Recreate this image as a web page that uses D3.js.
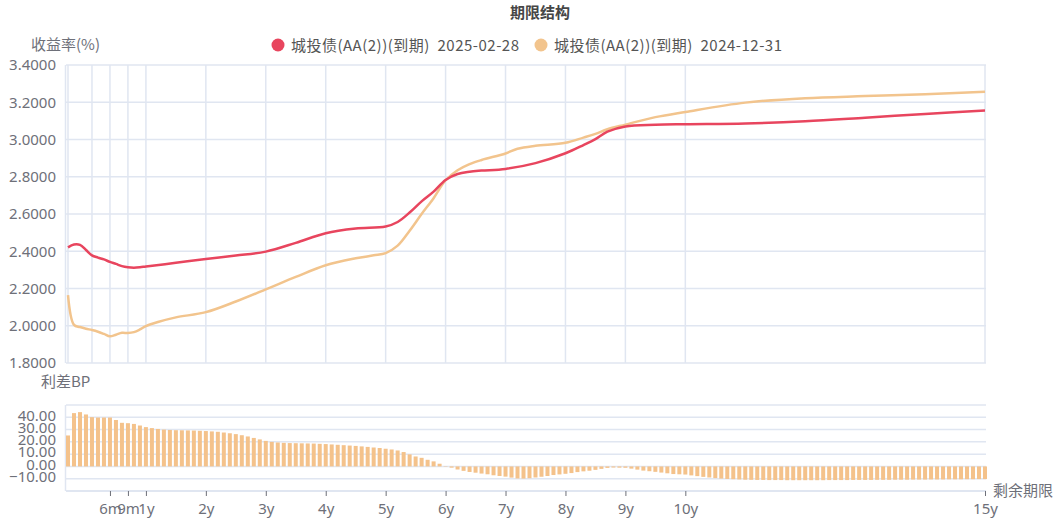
<!DOCTYPE html>
<html><head><meta charset="utf-8">
<script src="https://cdn.jsdelivr.net/npm/d3@7/dist/d3.min.js"></script>
<style>
html,body{margin:0;padding:0;background:#fff;}
svg{display:block;font-family:"Noto Sans CJK SC","Noto Sans",sans-serif;}
</style></head>
<body>
<svg id="chart" width="1060" height="523"></svg>
<script>
// ---------- DATA ----------
const shortTerms = ["7d","14d","1m","2m","3m","4m","5m","6m","7m","8m","9m","10m","11m","1y"];
const longTerms = [];
for (let i = 11; i <= 150; i++) { const v = i / 10; longTerms.push((Number.isInteger(v) ? v : v.toFixed(1)) + "y"); }
const categories = shortTerms.concat(longTerms);

const xTickLabels = ["6m","9m","1y","2y","3y","4y","5y","6y","7y","8y","9y","10y","15y"];
const topGridTerms = ["7d","3m","6m","9m","1y","2y","3y","4y","5y","6y","7y","8y","9y","10y","15y"];
const yTicksTop = [1.8,2.0,2.2,2.4,2.6,2.8,3.0,3.2,3.4];
const yTicksBottom = [-10,0,10,20,30,40];
const yGridBottom = [-20,-10,0,10,20,30,40,50];

const seriesNames = ["城投债(AA(2))(到期)  2025-02-28", "城投债(AA(2))(到期)  2024-12-31"];

const red = [["7d",2.421],["14d",2.436],["1m",2.434],["2m",2.407],["3m",2.378],["4m",2.366],["5m",2.356],["6m",2.343],["7m",2.332],["8m",2.32],["9m",2.314],["10m",2.312],["11m",2.314],["1y",2.318],["1.5y",2.338],["2y",2.358],["2.5y",2.377],["3y",2.398],["3.5y",2.445],["4y",2.497],["4.5y",2.522],["5y",2.533],["5.2y",2.557],["5.4y",2.608],["5.6y",2.668],["5.8y",2.72],["6y",2.783],["6.2y",2.815],["6.4y",2.827],["6.6y",2.833],["7y",2.842],["7.5y",2.873],["8y",2.926],["8.3y",2.97],["8.5y",3.002],["8.7y",3.042],["9y",3.07],["9.5y",3.079],["10y",3.082],["11y",3.086],["12y",3.098],["13y",3.117],["14y",3.137],["15y",3.156]];

const orange = [["7d",2.165],["14d",2.005],["1m",1.993],["2m",1.984],["3m",1.977],["4m",1.968],["5m",1.956],["6m",1.943],["7m",1.952],["8m",1.962],["9m",1.961],["10m",1.966],["11m",1.98],["1y",1.998],["1.2y",2.02],["1.5y",2.045],["2y",2.073],["2.5y",2.13],["3y",2.195],["3.5y",2.262],["4y",2.325],["4.5y",2.362],["4.8y",2.378],["5y",2.39],["5.2y",2.43],["5.4y",2.51],["5.6y",2.6],["5.8y",2.685],["6y",2.781],["6.2y",2.835],["6.4y",2.868],["6.6y",2.89],["7y",2.925],["7.2y",2.95],["7.5y",2.966],["8y",2.982],["8.3y",3.01],["8.5y",3.03],["8.7y",3.055],["9y",3.08],["9.5y",3.12],["10y",3.148],["11y",3.198],["12y",3.222],["13y",3.233],["14y",3.243],["15y",3.257]];

const spread = [
 25.2,43.4,44.2,42.3,40.1,39.8,39.8,39.8,37.8,35.5,35.2,34.6,33.3,32.0,
 31.2,30.5,30.0,29.7,29.5,29.4,29.3,29.2,29.0,28.8,
 28.5,28.2,27.6,27.0,26.3,25.4,24.4,23.2,22.0,20.8,
 20.0,19.5,19.2,19.0,18.9,18.8,18.7,18.6,18.4,18.2,
 17.9,17.6,17.3,17.0,16.7,16.3,15.9,15.4,15.0,14.4,
 13.8,13.0,11.7,9.8,8.1,7.0,5.4,4.1,2.2,0.3,
 -1.0,-2.5,-3.6,-4.5,-5.1,-5.8,-6.4,-7.2,-7.8,-8.3,
 -9.1,-9.8,-9.9,-9.6,-9.0,-8.4,-7.8,-7.0,-6.5,-6.0,
 -5.4,-4.6,-4.0,-3.5,-2.8,-2.0,-1.2,-0.9,-1.0,-1.1,
 -1.8,-2.6,-3.4,-3.9,-4.4,-5.0,-5.6,-6.2,-6.4,-6.6,
 -7.3,-7.9,-8.5,-9.0,-9.5,-9.9,-10.2,-10.4,-10.6,-10.8,
 -10.9,-11.0,-11.0,-11.1,-11.1,-11.1,-11.2,-11.2,-11.2,-11.2,
 -11.2,-11.2,-11.2,-11.1,-11.1,-11.1,-11.1,-11.0,-11.0,-11.0,
 -11.0,-10.9,-10.9,-10.9,-10.8,-10.8,-10.8,-10.7,-10.7,-10.7,
 -10.6,-10.6,-10.6,-10.5,-10.5,-10.5,-10.4,-10.4,-10.3,-10.3
];

// ---------- STYLE ----------
const C_RED = "#e8455e", C_ORANGE = "#f2c48d", C_BAR = "#f4c28b";
const C_GRID = "#e0e6f1", C_TEXT = "#6e7079", C_TITLE = "#464646";
const NUM_FONT = '"Noto Sans","Noto Sans CJK SC",sans-serif';

const svg = d3.select("#chart");
const x = d3.scalePoint().domain(categories).range([68, 985]);
const yTop = d3.scaleLinear().domain([1.8, 3.4]).range([363, 65]);
const yBot = d3.scaleLinear().domain([-20, 50]).range([491, 405]);

// title
svg.append("text").attr("x", 540).attr("y", 18).attr("text-anchor", "middle")
  .attr("font-size", 15).attr("font-weight", "bold").attr("fill", C_TITLE).text("期限结构");

// axis names
svg.append("text").attr("x", 31).attr("y", 50).attr("font-size", 15).attr("fill", C_TEXT).text("收益率(%)");
svg.append("text").attr("x", 41).attr("y", 387).attr("font-size", 15).attr("fill", C_TEXT).text("利差BP");
svg.append("text").attr("x", 993).attr("y", 496).attr("font-size", 15).attr("fill", C_TEXT).text("剩余期限");

// legend
const leg = [{c: C_RED, x: 278, t: seriesNames[0]}, {c: C_ORANGE, x: 541, t: seriesNames[1]}];
leg.forEach(l => {
  svg.append("circle").attr("cx", l.x).attr("cy", 45).attr("r", 6.5).attr("fill", l.c);
  svg.append("text").attr("x", l.x + 13).attr("y", 50.5).attr("font-size", 15).attr("fill", "#555")
    .style("white-space", "pre").attr("textLength", 228).attr("lengthAdjust", "spacing").text(l.t);
});

// ---------- TOP CHART ----------
const gTop = svg.append("g");
gTop.selectAll("line.hg").data(yTicksTop).join("line")
  .attr("x1", 66).attr("x2", 986).attr("y1", d => yTop(d)).attr("y2", d => yTop(d))
  .attr("stroke", C_GRID).attr("stroke-width", 1.5);
gTop.selectAll("line.vg").data(topGridTerms).join("line")
  .attr("x1", d => x(d)).attr("x2", d => x(d)).attr("y1", 65).attr("y2", 363)
  .attr("stroke", C_GRID).attr("stroke-width", 1.5);
gTop.append("line").attr("x1", 65.5).attr("x2", 65.5).attr("y1", 65).attr("y2", 363)
  .attr("stroke", C_GRID).attr("stroke-width", 1.5);

const yAxisTop = d3.axisLeft(yTop).tickValues(yTicksTop).tickFormat(d3.format(".4f")).tickSize(0).tickPadding(10);
gTop.append("g").attr("transform", "translate(66,0)").call(yAxisTop)
  .call(g => g.select(".domain").remove())
  .call(g => g.selectAll("text").attr("font-size", 15).attr("fill", C_TEXT).attr("font-family", NUM_FONT));

const line = d3.line().x(d => x(d[0])).y(d => yTop(d[1])).curve(d3.curveCatmullRom.alpha(0.5));
gTop.append("path").datum(orange).attr("d", line).attr("fill", "none")
  .attr("stroke", C_ORANGE).attr("stroke-width", 2.5);
gTop.append("path").datum(red).attr("d", line).attr("fill", "none")
  .attr("stroke", C_RED).attr("stroke-width", 2.5);

// ---------- BOTTOM CHART ----------
const gBot = svg.append("g");
gBot.selectAll("line.hg").data(yGridBottom).join("line")
  .attr("x1", 66).attr("x2", 986).attr("y1", d => yBot(d)).attr("y2", d => yBot(d))
  .attr("stroke", C_GRID).attr("stroke-width", d => d === -20 ? 2 : 1.5);
gBot.append("line").attr("x1", 65.5).attr("x2", 65.5).attr("y1", 405).attr("y2", 491)
  .attr("stroke", C_GRID).attr("stroke-width", 1.5);

const bw = 4;
gBot.selectAll("rect.bar").data(categories).join("rect")
  .attr("x", d => x(d) - bw / 2)
  .attr("width", bw)
  .attr("y", (d, i) => Math.min(yBot(spread[i]), yBot(0)))
  .attr("height", (d, i) => Math.abs(yBot(spread[i]) - yBot(0)))
  .attr("fill", C_BAR);

const yAxisBot = d3.axisLeft(yBot).tickValues(yTicksBottom).tickFormat(d3.format(".2f")).tickSize(0).tickPadding(10);
gBot.append("g").attr("transform", "translate(66,-2)").call(yAxisBot)
  .call(g => g.select(".domain").remove())
  .call(g => g.selectAll("text").attr("font-size", 15).attr("fill", C_TEXT).attr("font-family", NUM_FONT));

const xAxisBot = d3.axisBottom(x).tickValues(xTickLabels).tickSize(5).tickPadding(7);
gBot.append("g").attr("transform", "translate(0,491)").call(xAxisBot)
  .call(g => g.select(".domain").remove())
  .call(g => g.selectAll(".tick line").attr("stroke", C_TEXT))
  .call(g => g.selectAll("text").attr("font-size", 15).attr("fill", C_TEXT).attr("font-family", NUM_FONT));
</script>
</body></html>
